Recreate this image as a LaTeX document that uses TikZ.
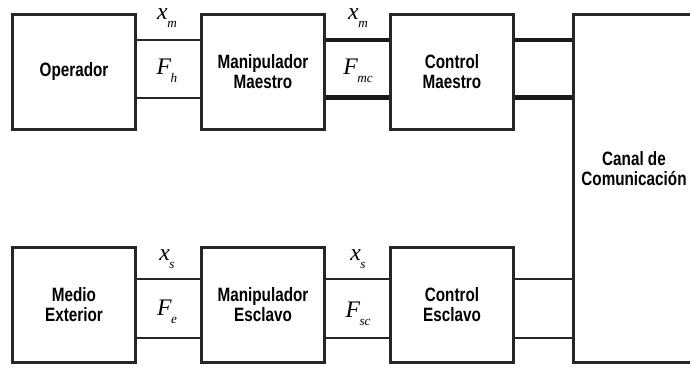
\documentclass[tikz,border=0pt]{standalone}
\usepackage{fontspec}
\setmainfont{Liberation Sans}
\newfontfamily\angosta[FakeStretch=0.79]{Liberation Sans}
\newfontfamily\tms{Liberation Serif}
\usetikzlibrary{positioning}
\newcommand{\etq}[2]{{\tms\itshape #1\kern-0.02em\raisebox{-0.7ex}{\fontsize{7.5}{7.5}\selectfont #2}}}
\tikzset{
	texto/.style={inner sep=0pt, align=center, font=\angosta\fontsize{11}{11.3}\selectfont\bfseries},
	bloque/.style={texto, draw=black!85, line width=0.6mm, minimum width=2.48cm, minimum height=2.32cm},
	fino/.style={line width=0.55mm, color=black!85},
	grueso/.style={line width=1.0mm, color=black!90},
	etiq/.style={inner sep=0pt, font=\fontsize{13.5}{13.5}\selectfont}
}

\begin{document}
\begin{tikzpicture}[x=0.02cm, y=-0.02cm]
	%%%%% START %%%%%
	
	\useasboundingbox (0, 0) rectangle (690, 367);
	\clip (0, 0) rectangle (690, 367);
	
	\node[bloque] (op) at (74, 72) {Operador};
	\node[bloque] (mm) at (263, 72) {Manipulador\\Maestro};
	\node[bloque] (cm) at (452, 72) {Control\\Maestro};
	
	\node[bloque] (me) at (74, 305) {Medio\\Exterior};
	\node[bloque] (ms) at (263, 305) {Manipulador\\Esclavo};
	\node[bloque] (cs) at (452, 305) {Control\\Esclavo};
	
	\node[bloque, minimum width=2.54cm, minimum height=6.98cm] (canal) at (636.5, 188.5) {};
	\node[texto] (canaltxt) at (634, 169) {Canal de\\Comunicación};
	
	% maestro
	\draw[fino] ([yshift=0.64cm]op.east) -- ([yshift=0.64cm]mm.west);
	\draw[fino] ([yshift=-0.52cm]op.east) -- ([yshift=-0.52cm]mm.west);
	\draw[grueso] ([yshift=0.64cm]mm.east) -- ([yshift=0.64cm]cm.west);
	\draw[grueso] ([yshift=-0.52cm]mm.east) -- ([yshift=-0.52cm]cm.west);
	\draw[grueso] ([yshift=0.64cm]cm.east) -- ([yshift=0.64cm]cm.east -| canal.west);
	\draw[grueso] ([yshift=-0.52cm]cm.east) -- ([yshift=-0.52cm]cm.east -| canal.west);
	
	% esclavo
	\draw[fino] ([yshift=0.52cm]me.east) -- ([yshift=0.52cm]ms.west);
	\draw[fino] ([yshift=-0.66cm]me.east) -- ([yshift=-0.66cm]ms.west);
	\draw[fino] ([yshift=0.52cm]ms.east) -- ([yshift=0.52cm]cs.west);
	\draw[fino] ([yshift=-0.66cm]ms.east) -- ([yshift=-0.66cm]cs.west);
	\draw[fino] ([yshift=0.52cm]cs.east) -- ([yshift=0.52cm]cs.east -| canal.west);
	\draw[fino] ([yshift=-0.66cm]cs.east) -- ([yshift=-0.66cm]cs.east -| canal.west);
	
	\node[etiq] (xm1) at (167, 18) {\etq{x}{m}};
	\node[etiq] (fh) at (167, 71) {\etq{F}{h}};
	\node[etiq] (xm2) at (358, 18) {\etq{x}{m}};
	\node[etiq] (fmc) at (358, 71) {\etq{F}{mc}};
	
	\node[etiq] (xs1) at (167, 259) {\etq{x}{s}};
	\node[etiq] (fe) at (167, 312) {\etq{F}{e}};
	\node[etiq] (xs2) at (358, 259) {\etq{x}{s}};
	\node[etiq] (fsc) at (358, 314) {\etq{F}{sc}};
	
	%%%%% END %%%%%
\end{tikzpicture}
\end{document}
